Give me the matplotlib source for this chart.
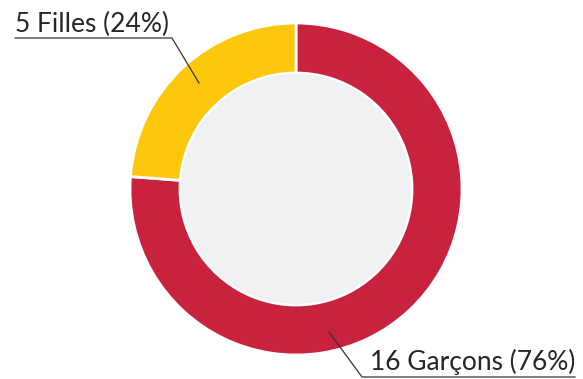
import matplotlib.pyplot as plt
from matplotlib.patches import Circle

# effectifs par sexe
categories = ["Garçons", "Filles"]
counts = [16, 5]
colors = ["#C8223F", "#FDC70C"]

total = sum(counts)
pct = [round(100 * c / total) for c in counts]

plt.rcParams['font.family'] = ['Lato', 'DejaVu Sans']

W, H = 583, 379
fig = plt.figure(figsize=(W / 100, H / 100), dpi=100)
ax = fig.add_axes([0, 0, 1, 1])

def px(x, y):
    # coordonnées écran (origine en haut à gauche) -> axes
    return x, H - y

cx, cy = px(296, 189)
r_out, r_in = 166, 116
ax.pie(counts, colors=colors, startangle=90, counterclock=False,
       center=(cx, cy), radius=r_out, frame=True,
       wedgeprops=dict(width=r_out - r_in, edgecolor='white', linewidth=2))
ax.add_patch(Circle((cx, cy), r_in - 1, facecolor='#F0F1F3', edgecolor='none', zorder=3))
ax.set_xlim(0, W)
ax.set_ylim(0, H)
ax.set_aspect('equal')
ax.axis('off')

# étiquettes avec traits de rappel
tx, ty = px(15, 32)
ax.text(tx, ty, f"{counts[1]} {categories[1]} ({pct[1]}%)", fontsize=19,
        color='#262626', ha='left', va='baseline', zorder=5)
pts = [px(15, 38), px(172, 38), px(199, 83)]
ax.plot([p[0] for p in pts], [p[1] for p in pts], color='#333333', lw=0.9, zorder=5)

tx, ty = px(575, 370)
ax.text(tx, ty, f"{counts[0]} {categories[0]} ({pct[0]}%)", fontsize=19,
        color='#262626', ha='right', va='baseline', zorder=5)
pts = [px(329, 332), px(362, 377), px(575, 377)]
ax.plot([p[0] for p in pts], [p[1] for p in pts], color='#333333', lw=0.9, zorder=5)

fig.savefig("out.png", dpi=100)
